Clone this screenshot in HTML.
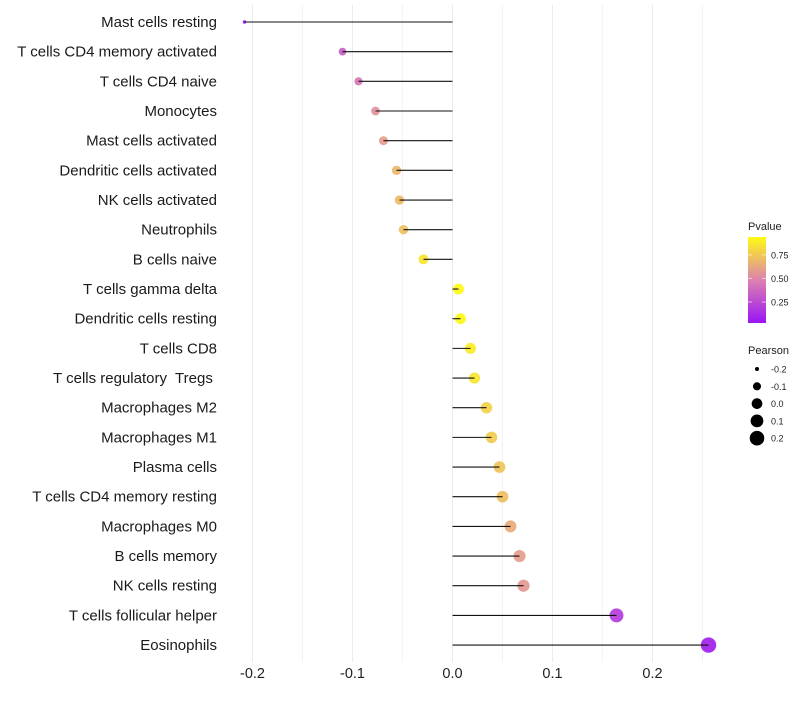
<!DOCTYPE html>
<html><head><meta charset="utf-8"><style>
body{margin:0;background:#fff;font-family:"Liberation Sans",sans-serif}
text{white-space:pre}
</style></head><body>
<svg id="chart" width="800" height="700" xmlns="http://www.w3.org/2000/svg">
<g id="grid"></g>
<g id="marks"></g>
<g id="ylab"></g>
<g id="xlab"></g>
<g id="legend"></g>
</svg>
<script>
const categories=["Mast cells resting","T cells CD4 memory activated","T cells CD4 naive","Monocytes","Mast cells activated","Dendritic cells activated","NK cells activated","Neutrophils","B cells naive","T cells gamma delta","Dendritic cells resting","T cells CD8","T cells regulatory  Tregs ","Macrophages M2","Macrophages M1","Plasma cells","T cells CD4 memory resting","Macrophages M0","B cells memory","NK cells resting","T cells follicular helper","Eosinophils"];
const pearson=[-0.208,-0.110,-0.094,-0.077,-0.069,-0.056,-0.053,-0.049,-0.029,0.006,0.008,0.018,0.022,0.034,0.039,0.047,0.050,0.058,0.067,0.071,0.164,0.256];
const pvalue=[0.03,0.35,0.45,0.55,0.6,0.7,0.72,0.74,0.88,0.96,0.95,0.9,0.88,0.8,0.78,0.75,0.73,0.65,0.6,0.58,0.2,0.08];
const xTicks=[-0.2,-0.1,0.0,0.1,0.2];
const xTickLabels=["-0.2","-0.1","0.0","0.1","0.2"];
const pTicks=[0.25,0.5,0.75];
const sizeBreaks=[-0.2,-0.1,0.0,0.1,0.2];
const NS="http://www.w3.org/2000/svg";
const X=v=>452.5+v*1000;
const Y=i=>22+i*29.67;
const R=v=>Math.sqrt(Math.max(1,28.5+122.5*v));
function col(p){const t=Math.max(0,Math.min(1,(p-0.027)/(0.96-0.027)));
const a=[155,20,245],m=[220,130,175],b=[255,250,20];
let c;if(t<0.5){const u=t/0.5;c=a.map((x,k)=>x+(m[k]-x)*u);}else{const u=(t-0.5)/0.5;c=m.map((x,k)=>x+(b[k]-x)*u);}
return `rgb(${c.map(Math.round).join(",")})`;}
function mk(tag,attrs,parent,text){const e=document.createElementNS(NS,tag);for(const k in attrs)e.setAttribute(k,attrs[k]);if(text!==undefined)e.textContent=text;parent.appendChild(e);return e;}
const grid=document.getElementById('grid'),marks=document.getElementById('marks'),ylab=document.getElementById('ylab'),xlab=document.getElementById('xlab'),leg=document.getElementById('legend');
for(let k=0;k<=9;k++){const v=-0.2+k*0.05;const g=mk('line',{x1:X(v),x2:X(v),y1:5,y2:662,stroke:'#ebebeb','stroke-width':k%2===0?1:0.6},grid);

}
xTicks.forEach((v,i)=>{const t=mk('text',{x:X(v),y:678,'text-anchor':'middle','font-size':14.5,fill:'#222'},xlab,xTickLabels[i]);

});
categories.forEach((c,i)=>{const t=mk('text',{x:217,y:Y(i)+5,'text-anchor':'end','font-size':15,fill:'#1a1a1a'},ylab,c);


const p=mk('circle',{cx:X(pearson[i]),cy:Y(i),r:R(pearson[i]),fill:col(pvalue[i]),'fill-opacity':0.92},marks);


const l=mk('line',{x1:X(0),x2:X(pearson[i]),y1:Y(i),y2:Y(i),stroke:'#111','stroke-width':1.1},marks);

});
mk('text',{x:748,y:230,'font-size':11,fill:'#222'},leg,'Pvalue');
const defs=mk('defs',{},leg);const lg=mk('linearGradient',{id:'pg',x1:0,y1:1,x2:0,y2:0},defs);
for(let k=0;k<=10;k++){const p=0.027+(0.96-0.027)*k/10;mk('stop',{offset:k/10,'stop-color':col(p)},lg);}
const bar=mk('rect',{x:748,y:237,width:18,height:86,fill:'url(#pg)'},leg);


pTicks.forEach(p=>{const y=323-(p-0.027)/(0.94-0.027)*86;mk('line',{x1:748,x2:752,y1:y,y2:y,stroke:'#fff','stroke-opacity':0.6},leg);mk('line',{x1:762,x2:766,y1:y,y2:y,stroke:'#fff','stroke-opacity':0.6},leg);
const t=mk('text',{x:771,y:y+3.5,'font-size':9,fill:'#222'},leg,p.toFixed(2));

});
mk('text',{x:748,y:354,'font-size':11,fill:'#222'},leg,'Pearson');
sizeBreaks.forEach((v,i)=>{const y=369+i*17.3;mk('circle',{cx:757,cy:y,r:R(v),fill:'#000'},leg);
const t=mk('text',{x:771,y:y+3.5,'font-size':9,fill:'#222'},leg,v.toFixed(1));

});
</script>
</body></html>
